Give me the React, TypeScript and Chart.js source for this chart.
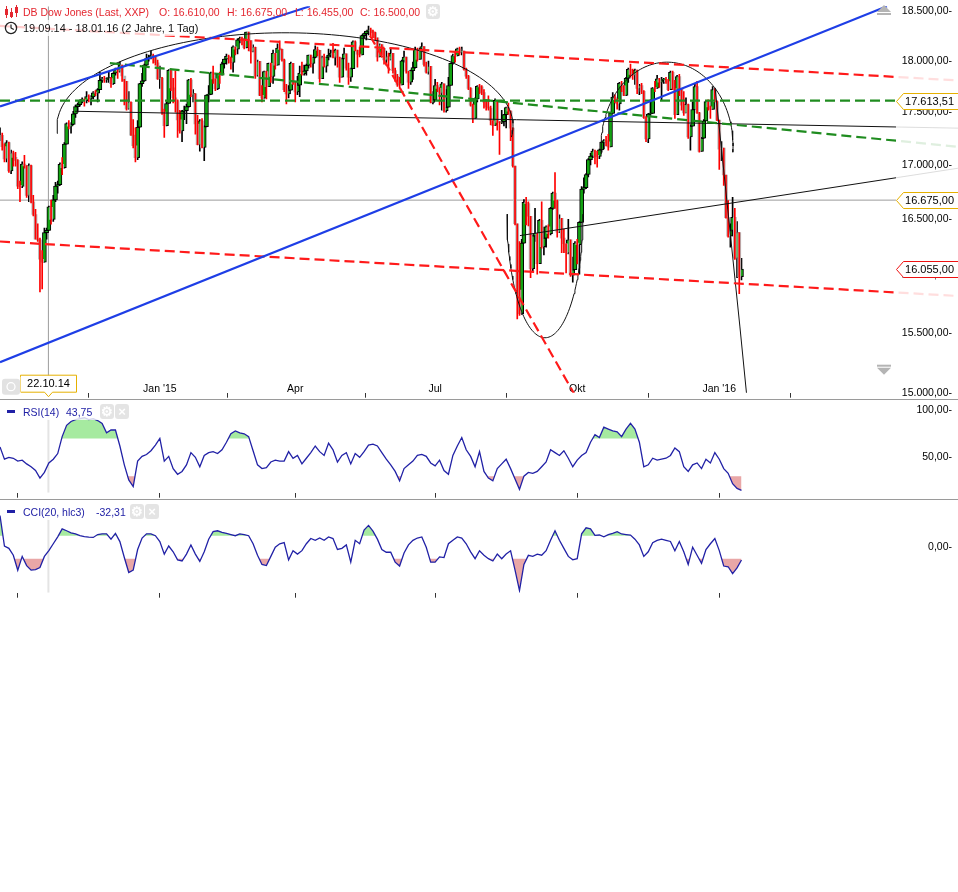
import React, { useEffect, useRef } from 'react';
import { Chart, registerables } from 'chart.js';

Chart.register(...registerables);

const FONT = '"Liberation Sans", Arial, Helvetica, sans-serif';

// ---------------- x axis (trading-day index) ----------------
const xMin = 0;
const xMax = 403.6;
const monthTickIndex = [8, 72, 133, 196, 260, 324];
const monthTickLabels = ['Okt', "Jan '15", 'Apr', 'Jul', 'Okt', "Jan '16"];

// ---------------- daily candles 19.09.14 - 18.01.16 ----------------
const opens = [
  17266,17280,17173,17056,17210,16946,17113,17071,17043,16804,
  16801,17009,16991,16719,16994,16659,16544,16321,16315,16142,
  16117,16380,16400,16610,16500,16677,16805,16818,17006,16975,
  17196,17391,17366,17384,17485,17555,17574,17614,17615,17613,
  17653,17635,17648,17688,17686,17720,17811,17818,17815,17828,
  17828,17777,17880,17913,17901,17959,17853,17801,17533,17597,
  17281,17181,17068,17357,17778,17805,17959,18024,18030,18053,
  18038,17983,17823,17833,17501,17371,17585,17908,17737,17640,
  17613,17427,17321,17511,17516,17555,17814,17673,17679,17388,
  17191,17417,17165,17362,17667,17674,17885,17825,17729,17868,
  17863,17973,18019,18048,18030,17986,18141,18117,18210,18225,
  18214,18133,18288,18204,18097,18136,17857,17996,17663,17636,
  17895,17749,17977,17849,18076,17959,18128,18116,18011,17719,
  17678,17713,17977,17776,17698,17763,17881,17876,17903,17958,
  18058,17977,18036,18113,18106,17827,18034,17950,18039,18058,
  18080,18038,18110,18036,17841,18024,18071,17929,17842,17925,
  18191,18106,18068,18060,18253,18273,18298,18312,18286,18285,
  18232,18042,18163,18126,18011,18041,18012,18077,17906,17849,
  17766,17765,18001,18039,17899,17791,17905,17935,18115,18016,
  18120,18144,17967,17891,17947,17596,17620,17758,17731,17684,
  17777,17515,17549,17760,17978,18054,18050,18121,18086,18100,
  17920,17851,17732,17569,17440,17630,17751,17746,17690,17598,
  17551,17540,17419,17373,17615,17403,17402,17409,17477,17546,
  17512,17349,16991,16460,15871,15666,16285,16655,16643,16528,
  16058,16351,16374,16102,16492,16253,16330,16433,16371,16600,
  16740,16675,16385,16510,16331,16280,16201,16315,16001,16049,
  16285,16272,16472,16776,16790,16912,17050,17084,17131,17082,
  17081,17142,17216,17230,17217,17169,17489,17646,17623,17581,
  17780,17756,17664,17829,17918,17868,17864,17910,17731,17758,
  17703,17449,17245,17484,17490,17737,17733,17824,17792,17813,
  17813,17798,17720,17888,17730,17478,17848,17730,17568,17493,
  17575,17265,17368,17525,17749,17495,17128,17252,17418,17603,
  17552,17528,17721,17603,17425,17149,17159,16907,16515,16347,
  16399,16517,16152,16380,15988,
];
const highs = [
  17350,17300,17200,17230,17215,17140,17130,17120,17050,16850,
  17030,17090,16995,17010,17000,16720,16590,16460,16330,16220,
  16420,16420,16620,16675,16720,16840,16850,17020,17070,17210,
  17400,17420,17400,17510,17570,17590,17620,17640,17630,17700,
  17670,17660,17700,17710,17730,17890,17840,17850,17835,17890,
  17840,17885,17930,17920,17990,17960,17820,17801,17700,17600,
  17430,17350,17420,17780,17880,17970,18070,18060,18100,18070,
  18040,18010,17950,17840,17530,17600,17915,17920,17830,17900,
  17620,17520,17520,17560,17580,17820,17830,17720,17680,17470,
  17430,17440,17370,17670,17760,17890,17950,17825,17870,17890,
  17990,18020,18070,18060,18040,18150,18140,18220,18240,18240,
  18220,18290,18290,18204,18160,18140,18010,17996,17760,17900,
  17900,17980,17980,18110,18076,18170,18200,18120,18020,17770,
  17760,17990,17977,17790,17850,17950,17990,17960,17970,18060,
  18060,18040,18150,18140,18106,18050,18070,18040,18120,18110,
  18175,18120,18110,18040,18030,18130,18071,17980,17930,18200,
  18200,18110,18140,18260,18280,18300,18350,18330,18310,18290,
  18232,18170,18163,18130,18100,18080,18130,18077,17930,17870,
  17840,18010,18100,18039,17899,17910,17990,18140,18130,18130,
  18180,18144,17990,18000,17947,17700,17820,17790,17740,17790,
  17777,17720,17840,17980,18070,18100,18130,18140,18140,18100,
  17930,17860,17740,17580,17640,17760,17770,17760,17720,17620,
  17660,17560,17420,17630,17615,17410,17520,17480,17550,17590,
  17515,17350,16991,16460,16300,16320,16680,16700,16660,16528,
  16360,16600,16374,16500,16660,16430,16440,16450,16610,16750,
  16930,16675,16540,16510,16410,16280,16500,16315,16160,16300,
  16320,16480,16800,16880,16920,17060,17110,17150,17140,17130,
  17150,17220,17240,17270,17290,17500,17690,17670,17630,17790,
  17800,17760,17840,17930,17970,17920,17920,17910,17770,17780,
  17710,17460,17490,17620,17740,17800,17860,17830,17840,17830,
  17840,17820,17900,17900,17810,17860,17870,17730,17700,17640,
  17580,17380,17600,17780,17800,17500,17260,17430,17610,17620,
  17560,17750,17730,17610,17425,17220,17159,16907,16670,16460,
  16700,16600,16480,16380,16150,
];
const lows = [
  17230,17140,17030,17030,16930,16920,16990,16990,16780,16660,
  16790,16970,16700,16660,16650,16530,16320,16300,15855,15880,
  16117,16320,16400,16455,16480,16660,16740,16810,16910,16970,
  17196,17340,17300,17380,17450,17500,17560,17590,17560,17590,
  17600,17570,17630,17660,17600,17720,17790,17790,17790,17790,
  17740,17770,17860,17830,17890,17800,17570,17520,17530,17280,
  17160,17030,17050,17357,17750,17800,17950,18000,18020,17980,
  17960,17820,17730,17480,17260,17370,17585,17710,17590,17500,
  17260,17300,17220,17430,17390,17550,17650,17600,17290,17190,
  17130,17160,17040,17360,17600,17670,17780,17710,17720,17780,
  17860,17930,17970,17980,17920,17890,18060,18070,18180,18160,
  18120,18130,18100,17980,18090,17830,17850,17660,17600,17636,
  17630,17749,17790,17780,17920,17959,18110,18000,17700,17580,
  17640,17713,17770,17600,17670,17650,17860,17860,17860,17930,
  17940,17880,18030,18050,17790,17827,17940,17890,18010,18040,
  18030,17960,17940,17790,17841,18020,17910,17770,17800,17925,
  18100,17940,18040,18060,18230,18210,18260,18250,18230,18210,
  18000,18040,18060,17970,17960,17880,18010,17880,17800,17750,
  17730,17765,17990,17880,17730,17770,17820,17930,18000,18016,
  18100,17950,17880,17870,17590,17580,17620,17700,17570,17520,
  17500,17500,17549,17760,17970,17990,18050,18060,18060,17910,
  17830,17720,17560,17400,17440,17600,17680,17670,17540,17520,
  17520,17380,17280,17373,17330,17100,17390,17370,17350,17480,
  17230,16980,16450,15620,15650,15660,16285,16450,16440,15980,
  16030,16300,16010,16102,16240,16180,16250,16330,16360,16590,
  16600,16340,16380,16200,16200,16020,16190,15990,15940,16049,
  16100,16010,16472,16740,16780,16890,17000,17070,17010,16980,
  17060,17120,17150,17180,17140,17169,17489,17590,17530,17520,
  17700,17660,17660,17790,17840,17820,17770,17680,17670,17680,
  17440,17220,17210,17470,17490,17700,17730,17740,17620,17780,
  17780,17710,17720,17720,17440,17478,17660,17520,17470,17493,
  17250,17140,17368,17525,17490,17120,17128,17250,17418,17520,
  17440,17528,17600,17420,16960,17040,16810,16510,16340,16250,
  16350,16140,15980,15840,15960,
];
const closes = [
  17280,17173,17056,17210,16946,17113,17071,17043,16804,16801,
  17009,16991,16719,16994,16659,16544,16321,16315,16142,16117,
  16380,16400,16614,16500,16677,16805,16818,17006,16975,17196,
  17391,17366,17384,17485,17555,17574,17614,17615,17613,17653,
  17635,17648,17688,17686,17720,17811,17818,17815,17828,17828,
  17777,17880,17913,17901,17959,17853,17801,17533,17597,17281,
  17181,17068,17357,17778,17805,17959,18024,18030,18053,18038,
  17983,17823,17833,17501,17371,17585,17908,17737,17640,17613,
  17427,17321,17511,17516,17555,17814,17673,17679,17388,17191,
  17417,17165,17362,17667,17674,17885,17825,17729,17868,17863,
  17973,18019,18048,18030,17986,18141,18117,18210,18225,18214,
  18133,18288,18204,18097,18136,17857,17996,17663,17636,17895,
  17749,17977,17849,18076,17959,18128,18116,18011,17719,17678,
  17713,17977,17776,17698,17763,17881,17876,17903,17958,18058,
  17977,18036,18113,18106,17827,18034,17950,18039,18058,18080,
  18038,18110,18036,17841,18024,18071,17929,17842,17925,18191,
  18106,18068,18060,18253,18273,18298,18312,18286,18285,18232,
  18042,18163,18126,18011,18041,18012,18077,17906,17849,17766,
  17765,18001,18039,17899,17791,17905,17935,18115,18016,18120,
  18144,17967,17891,17947,17596,17620,17758,17731,17684,17777,
  17515,17549,17760,17978,18054,18050,18121,18086,18100,17920,
  17851,17732,17569,17440,17630,17751,17746,17690,17598,17551,
  17540,17419,17373,17615,17403,17402,17409,17477,17546,17512,
  17349,16991,16460,15871,15666,16285,16655,16643,16528,16058,
  16351,16374,16102,16492,16253,16330,16433,16371,16600,16740,
  16675,16385,16510,16331,16280,16201,16315,16001,16049,16285,
  16272,16472,16776,16790,16912,17050,17084,17131,17082,17081,
  17142,17216,17230,17217,17169,17489,17646,17623,17581,17780,
  17756,17664,17829,17918,17868,17864,17910,17731,17758,17703,
  17449,17245,17484,17490,17737,17733,17824,17792,17813,17813,
  17798,17720,17888,17730,17478,17848,17730,17568,17493,17575,
  17265,17368,17525,17749,17495,17128,17252,17418,17603,17552,
  17528,17721,17603,17425,17149,17159,16907,16515,16347,16399,
  16517,16152,16380,15988,16055,
];

// ---------------- indicators (one reading every 2 trading days) ----------------
const indicatorStep = 2;
const rsiValues = [
  61,48,50,49,46,47,43,40,36,28,
  34,44,48,54,72,84,88,90,91,92,
  90,91,89,86,76,79,79,62,42,26,
  19,46,51,53,57,63,70,46,51,38,
  32,35,42,55,50,40,52,55,56,54,
  58,66,75,78,76,75,72,57,42,38,
  39,45,47,46,46,56,49,52,43,49,
  55,62,56,52,65,58,45,52,55,43,
  54,50,56,63,64,62,55,48,42,35,
  25,38,42,46,52,53,51,44,41,47,
  36,32,52,62,71,58,51,40,56,35,
  28,25,38,43,48,38,27,16,30,34,
  33,35,40,45,58,55,52,57,49,40,
  47,52,55,66,74,71,82,80,78,77,
  72,80,86,80,66,40,42,49,47,48,
  49,52,60,56,40,35,42,44,38,48,
  44,55,48,38,33,22,17,15,
];
const cciValues = [
  276,10,-10,-70,-200,-80,-160,-200,-195,-177,
  -80,-30,30,90,160,143,125,115,100,92,
  88,85,110,116,116,70,120,49,-90,-220,
  -200,-20,80,116,116,100,49,-60,10,-40,
  -110,-120,-60,20,-60,-124,-40,70,135,143,
  130,120,110,100,116,110,100,30,-70,-150,
  -160,-80,0,30,40,-110,-30,-60,-30,30,
  76,60,80,60,89,75,-20,-10,20,-130,
  60,30,150,190,140,70,-20,-44,-44,-130,
  -164,-50,20,60,80,89,0,-130,-130,-84,
  -90,30,60,89,80,30,-40,-100,-31,-70,
  -100,-120,-60,-100,-60,-31,-200,-377,-150,-71,
  -80,-60,-70,-30,60,143,60,-10,-80,-110,
  -100,116,169,160,103,106,90,110,120,135,
  115,110,105,70,20,-80,-40,40,60,70,
  60,50,-31,50,-40,-150,0,-70,-140,-20,
  30,76,-30,-164,-170,-230,-180,-111,
];

// ---------------- axis ticks & levels ----------------
const priceTicks = [15000, 15500, 16000, 16500, 17000, 17500, 18000, 18500];
const priceMin = 15000;
const priceMax = 18550;
const rsiTicks = [50, 100];
const rsiMin = 12.44;
const rsiMax = 104.15;
const rsiUpper = 70;
const rsiLower = 30;
const cciTicks = [0];
const cciMin = -396;
const cciMax = 356;
const cciUpper = 100;
const cciLower = -100;

const headerOHLC = [16610, 16675, 16455, 16500];
const crossIndex = 21.8;
const crossPrice = 16675;
const crossDate = '22.10.14';
const lastPrice = 16055;
const levelPrice = 17613.51;
const rsiLast = 43.75;
const cciLast = -32.31;

// ---------------- drawn trend lines: [x0, price0, x1, price1] ----------------
const blueLines = [
  [0, 15253, 399.5, 18550],
  [0, 17557, 139.6, 18550],
];
const redDashedLines = [
  [0, 18351, 431.5, 17809],
  [0, 16300, 431.5, 15819],
  [166.7, 18252, 259.9, 14950],
];
const greenDashedLines = [
  [0, 17613.51, 403.6, 17613.51],
  [49.5, 17979, 431.5, 17171],
];
const blackLines = [
  [33.8, 17510, 431.5, 17348],
  [234.2, 16353, 431.5, 16970],
];
const blackSteepX = [322.1, 327.5, 333.3, 336.5];
const blackSteepP = [17738, 16655, 15552, 14950];
// elliptic arcs (centre index, half-width in days, base price, apex price, angle range)
const arcs = [
  { cx: 128.4, rx: 102.7, base: 17369, apex: 18282, t0: Math.PI + 0.08, t1: -0.12 },
  { cx: 245.5, rx: 17.1, base: 16547, apex: 15460, t0: Math.PI, t1: 0 },
  { cx: 300.5, rx: 29.7, base: 17183, apex: 17989, t0: Math.PI + 0.1, t1: -0.08 },
];

const RED = '#ff1a1a';
const GREEN = '#1f8c1f';
const BLUE = '#1e3ee6';
const IND_LINE = '#2121a6';
const FILL_GREEN = '#a6eaa0';
const FILL_RED = '#e9a7a7';

function fmtDE(v: number): string {
  const neg = v < 0;
  const [i, d] = Math.abs(v).toFixed(2).split('.');
  return (neg ? '-' : '') + i.replace(/\B(?=(\d{3})+(?!\d))/g, '.') + ',' + d;
}

function xAxis(showLabels: boolean): any {
  return {
    type: 'linear',
    min: xMin,
    max: xMax,
    offset: false,
    afterBuildTicks: (s: any) => { s.ticks = monthTickIndex.map((v) => ({ value: v })); },
    ticks: {
      display: showLabels,
      autoSkip: false,
      mirror: true,
      maxRotation: 0,
      minRotation: 0,
      padding: -3,
      color: '#000',
      callback: (_v: any, i: number) => monthTickLabels[i],
    },
    grid: { display: true, drawOnChartArea: false, drawTicks: true, tickLength: 5, tickColor: '#333', tickWidth: 1 },
    border: { display: false },
    afterFit: (s: any) => { s.height = 5; },
  };
}

function yAxis(type: string, min: number, max: number, ticks: number[]): any {
  return {
    type,
    position: 'right',
    min,
    max,
    afterBuildTicks: (s: any) => { s.ticks = ticks.map((v) => ({ value: v })); },
    ticks: { callback: (v: any) => fmtDE(Number(v)) + '-', crossAlign: 'far', padding: 0, color: '#000', autoSkip: false, z: 2 },
    grid: { display: false, drawTicks: false },
    border: { display: false },
    afterFit: (s: any) => { s.width = 56; },
  };
}

function seg(points: any[], color: string, width: number, dash: number[], extend: boolean, order = 0): any {
  return {
    type: 'line',
    data: points,
    borderColor: color,
    borderWidth: width,
    borderDash: dash,
    pointRadius: 0,
    pointHoverRadius: 0,
    fill: false,
    tension: 0,
    order,
    clip: { left: 0, top: 0, right: extend ? 70 : 0, bottom: 0 },
  };
}

const two = (l: number[]) => [{ x: l[0], y: l[1] }, { x: l[2], y: l[3] }];

function arcPoints(a: any) {
  const pts: any[] = [];
  const lb = Math.log10(a.base);
  const la = Math.log10(a.apex);
  const n = 90;
  for (let j = 0; j <= n; j++) {
    const t = a.t0 + ((a.t1 - a.t0) * j) / n;
    pts.push({ x: a.cx + a.rx * Math.cos(t), y: Math.pow(10, lb + (la - lb) * Math.sin(t)) });
  }
  return pts;
}

// indicator curve clamped to one side of a threshold (crossings inserted exactly)
function bandPoints(values: number[], level: number, above: boolean) {
  const pts: any[] = [];
  for (let k = 0; k < values.length; k++) {
    const v = values[k];
    if (k > 0) {
      const pv = values[k - 1];
      if ((pv - level) * (v - level) < 0) {
        const t = (level - pv) / (v - pv);
        pts.push({ x: (k - 1 + t) * indicatorStep, y: level });
      }
    }
    pts.push({ x: k * indicatorStep, y: above ? Math.max(v, level) : Math.min(v, level) });
  }
  return pts;
}

const fadePlugin = {
  id: 'fadeAxisArea',
  afterDatasetsDraw(chart: any) {
    const { ctx, chartArea } = chart;
    ctx.save();
    ctx.fillStyle = 'rgba(255,255,255,0.86)';
    ctx.fillRect(chartArea.right, 0, chart.width - chartArea.right, chartArea.bottom);
    ctx.restore();
  },
};

function drawTag(ctx: any, x0: number, x1: number, py: number, color: string, text: string) {
  const h = 16;
  ctx.beginPath();
  ctx.moveTo(x0, py);
  ctx.lineTo(x0 + 7, py - h / 2);
  ctx.lineTo(x1, py - h / 2);
  ctx.lineTo(x1, py + h / 2);
  ctx.lineTo(x0 + 7, py + h / 2);
  ctx.closePath();
  ctx.fillStyle = '#fff';
  ctx.fill();
  ctx.strokeStyle = color;
  ctx.lineWidth = 1;
  ctx.stroke();
  ctx.fillStyle = '#000';
  ctx.font = '11px ' + FONT;
  ctx.textAlign = 'right';
  ctx.textBaseline = 'middle';
  ctx.fillText(text, x1 - 6, py + 0.5);
}

const mainDecor = {
  id: 'mainDecor',
  afterDraw(chart: any) {
    const { ctx, chartArea, scales } = chart;
    ctx.save();
    const x0 = chartArea.right + 0.5;
    const x1 = chart.width + 2;
    drawTag(ctx, x0, x1, Math.round(scales.y.getPixelForValue(levelPrice)) + 0.5, '#e5b000', fmtDE(levelPrice));
    drawTag(ctx, x0, x1, Math.round(scales.y.getPixelForValue(crossPrice)) + 0.5, '#e5b000', fmtDE(crossPrice));
    drawTag(ctx, x0, x1, Math.round(scales.y.getPixelForValue(lastPrice)) + 0.5, '#ee1111', fmtDE(lastPrice));

    // crosshair date box
    const cx = Math.round(scales.x.getPixelForValue(crossIndex)) + 0.5;
    const b = chartArea.bottom;
    ctx.beginPath();
    ctx.moveTo(cx - 28, b - 17.5);
    ctx.lineTo(cx + 28, b - 17.5);
    ctx.lineTo(cx + 28, b - 0.5);
    ctx.lineTo(cx + 4, b - 0.5);
    ctx.lineTo(cx, b + 4);
    ctx.lineTo(cx - 4, b - 0.5);
    ctx.lineTo(cx - 28, b - 0.5);
    ctx.closePath();
    ctx.fillStyle = '#fff';
    ctx.fill();
    ctx.strokeStyle = '#e5b000';
    ctx.lineWidth = 1;
    ctx.stroke();
    ctx.fillStyle = '#000';
    ctx.font = '11px ' + FONT;
    ctx.textAlign = 'center';
    ctx.textBaseline = 'middle';
    ctx.fillText(crossDate, cx, b - 8.5);

    // small button at lower-left
    ctx.fillStyle = '#fff';
    ctx.fillRect(0, b - 16, cx - 28, 20);
    ctx.fillStyle = '#e2e2e2';
    ctx.beginPath();
    ctx.roundRect(2, b - 14, 18, 16, 3);
    ctx.fill();
    ctx.strokeStyle = '#fff';
    ctx.lineWidth = 1.3;
    ctx.beginPath();
    ctx.arc(11, b - 6, 4, 0, Math.PI * 2);
    ctx.stroke();

    // scroll arrows at the right
    const ax = chartArea.right - 19;
    ctx.fillStyle = '#b4b4b4';
    ctx.beginPath();
    ctx.moveTo(ax, 12); ctx.lineTo(ax + 14, 12); ctx.lineTo(ax + 7, 5); ctx.closePath(); ctx.fill();
    ctx.fillRect(ax, 13, 14, 2);
    ctx.fillRect(ax, b - 28, 14, 2);
    ctx.beginPath();
    ctx.moveTo(ax, b - 25); ctx.lineTo(ax + 14, b - 25); ctx.lineTo(ax + 7, b - 18); ctx.closePath(); ctx.fill();
    ctx.restore();
  },
};

function buildMainConfig(): any {
  const n = Math.min(opens.length, highs.length, lows.length, closes.length);
  const upWick: any[] = [];
  const upBody: any[] = [];
  const downWick: any[] = [];
  const downBody: any[] = [];
  for (let i = 0; i < n; i++) {
    const o = opens[i];
    const c = closes[i];
    const wick = { x: i, y: [lows[i], highs[i]] };
    const body = { x: i, y: [Math.min(o, c), Math.max(o, c)] };
    if (c >= o) { upWick.push(wick); upBody.push(body); } else { downWick.push(wick); downBody.push(body); }
  }
  const barBase = { type: 'bar', grouped: false, borderSkipped: false, minBarLength: 1 };
  const datasets: any[] = [
    ...blueLines.map((l) => seg(two(l), BLUE, 2.2, [], false)),
    ...redDashedLines.map((l) => seg(two(l), RED, 2.2, [10, 5], true)),
    ...greenDashedLines.map((l) => seg(two(l), GREEN, 2.2, [10, 5], true)),
    ...blackLines.map((l) => seg(two(l), '#111', 1, [], true)),
    seg(blackSteepX.map((x, i) => ({ x, y: blackSteepP[i] })), '#111', 1, [], false),
    ...arcs.map((a) => seg(arcPoints(a), '#111', 1, [], false)),
    { ...barBase, data: downWick, backgroundColor: '#ff0000', barThickness: 1, order: 1 },
    { ...barBase, data: downBody, backgroundColor: '#b5b5b5', barThickness: 3, order: 2 },
    { ...barBase, data: upBody, backgroundColor: '#12a312', borderColor: '#000', borderWidth: 1, barThickness: 4, order: 3 },
    { ...barBase, data: upWick, backgroundColor: '#000', barThickness: 1, order: 4 },
    seg([{ x: crossIndex, y: priceMin }, { x: crossIndex, y: priceMax }], '#9c9c9c', 1, [], false, 5),
    seg([{ x: xMin, y: crossPrice }, { x: xMax, y: crossPrice }], '#9c9c9c', 1, [], false, 5),
  ];
  return {
    type: 'bar',
    data: { datasets },
    plugins: [fadePlugin, mainDecor],
    options: {
      responsive: false,
      animation: false,
      events: [],
      layout: { padding: { left: 0, right: 6, top: 0, bottom: 0 } },
      plugins: { legend: { display: false }, tooltip: { enabled: false } },
      scales: { x: xAxis(true), y: yAxis('logarithmic', priceMin, priceMax, priceTicks) },
    },
  };
}

function buildIndicatorConfig(values: number[], min: number, max: number, ticks: number[], upper: number, lower: number): any {
  const pts = values.map((v, k) => ({ x: k * indicatorStep, y: v }));
  const base = { type: 'line', pointRadius: 0, pointHoverRadius: 0, tension: 0 };
  const clear = 'rgba(0,0,0,0)';
  return {
    type: 'line',
    data: {
      datasets: [
        { ...base, data: pts, borderColor: IND_LINE, borderWidth: 1.3, fill: false, order: 0 },
        { ...base, data: bandPoints(values, upper, true), borderColor: clear, borderWidth: 1, backgroundColor: FILL_GREEN, fill: { target: { value: upper } }, order: 1 },
        { ...base, data: bandPoints(values, lower, false), borderColor: clear, borderWidth: 1, backgroundColor: FILL_RED, fill: { target: { value: lower } }, order: 2 },
        { ...base, data: [{ x: crossIndex, y: min }, { x: crossIndex, y: max }], borderColor: '#e4e4e4', borderWidth: 2, fill: false, order: 3 },
      ],
    },
    options: {
      responsive: false,
      animation: false,
      events: [],
      layout: { padding: { left: 0, right: 6, top: 0, bottom: 0 } },
      plugins: { legend: { display: false }, tooltip: { enabled: false } },
      scales: { x: xAxis(false), y: yAxis('linear', min, max, ticks) },
    },
  };
}

const iconBox = (left: number, top: number, glyph: string) => (
  <div style={{ position: 'absolute', left, top, width: 14, height: 15, borderRadius: 3, background: 'rgba(225,225,225,0.9)', color: '#fff', fontSize: 13, lineHeight: '15px', textAlign: 'center', fontWeight: 'bold' }}>{glyph}</div>
);

export default function App() {
  const mainRef = useRef<HTMLCanvasElement>(null);
  const rsiRef = useRef<HTMLCanvasElement>(null);
  const cciRef = useRef<HTMLCanvasElement>(null);

  useEffect(() => {
    Chart.defaults.font.family = FONT;
    Chart.defaults.font.size = 10.5;
    Chart.defaults.color = '#000';
    const charts = [
      new Chart(mainRef.current as any, buildMainConfig()),
      new Chart(rsiRef.current as any, buildIndicatorConfig(rsiValues, rsiMin, rsiMax, rsiTicks, rsiUpper, rsiLower)),
      new Chart(cciRef.current as any, buildIndicatorConfig(cciValues, cciMin, cciMax, cciTicks, cciUpper, cciLower)),
    ];
    return () => charts.forEach((c) => c.destroy());
  }, []);

  const red = '#e4262f';
  const text = (left: number, top: number, s: string, color: string, size = 10.5) => (
    <span style={{ position: 'absolute', left, top, fontSize: size, lineHeight: '14px', color, whiteSpace: 'nowrap' }}>{s}</span>
  );

  return (
    <div style={{ position: 'absolute', left: 0, top: 0, width: 958, height: 892, background: '#fff', fontFamily: FONT, overflow: 'hidden' }}>
      <canvas ref={mainRef} width={958} height={399} style={{ position: 'absolute', left: 0, top: 0, width: 958, height: 399 }} />
      <div style={{ position: 'absolute', left: 0, top: 399, width: 958, height: 1, background: '#9a9a9a' }} />
      <canvas ref={rsiRef} width={958} height={99} style={{ position: 'absolute', left: 0, top: 400, width: 958, height: 99 }} />
      <div style={{ position: 'absolute', left: 0, top: 499, width: 958, height: 1, background: '#9a9a9a' }} />
      <canvas ref={cciRef} width={958} height={99} style={{ position: 'absolute', left: 0, top: 500, width: 958, height: 99 }} />

      {/* header */}
      <svg style={{ position: 'absolute', left: 4, top: 5 }} width={15} height={14}>
        <line x1={2.5} y1={1} x2={2.5} y2={13} stroke={red} strokeWidth={1} />
        <rect x={1} y={4} width={3} height={6} fill={red} />
        <line x1={7.5} y1={3} x2={7.5} y2={13} stroke={red} strokeWidth={1} />
        <rect x={6} y={7} width={3} height={5} fill={red} />
        <line x1={12.5} y1={0} x2={12.5} y2={12} stroke={red} strokeWidth={1} />
        <rect x={11} y={2} width={3} height={6} fill={red} />
      </svg>
      {text(23, 5, 'DB Dow Jones (Last, XXP)', red)}
      {text(159, 5, 'O: ' + fmtDE(headerOHLC[0]), red)}
      {text(227, 5, 'H: ' + fmtDE(headerOHLC[1]), red)}
      {text(295, 5, 'L: ' + fmtDE(headerOHLC[2]), red)}
      {text(360, 5, 'C: ' + fmtDE(headerOHLC[3]), red)}
      {iconBox(426, 4, '\u2699')}
      <div style={{ position: 'absolute', left: 0, top: 20, width: 200, height: 16, background: 'rgba(255,255,255,0.78)' }} />
      <svg style={{ position: 'absolute', left: 4, top: 21 }} width={14} height={14}>
        <circle cx={7} cy={7} r={5.6} fill="none" stroke="#222" strokeWidth={1.3} />
        <line x1={7} y1={3.5} x2={7} y2={7.3} stroke="#222" strokeWidth={1.2} />
        <line x1={7} y1={7} x2={9.8} y2={8.6} stroke="#222" strokeWidth={1.2} />
      </svg>
      {text(23, 21, '19.09.14 - 18.01.16 (2 Jahre, 1 Tag)', '#111', 11)}

      {/* RSI legend */}
      <div style={{ position: 'absolute', left: 0, top: 403, width: 130, height: 17, background: 'rgba(255,255,255,0.8)' }} />
      <div style={{ position: 'absolute', left: 7, top: 410, width: 8, height: 3, background: IND_LINE }} />
      {text(23, 405, 'RSI(14)', IND_LINE)}
      {text(66, 405, fmtDE(rsiLast), IND_LINE)}
      {iconBox(100, 404, '\u2699')}
      {iconBox(115, 404, '\u00d7')}

      {/* CCI legend */}
      <div style={{ position: 'absolute', left: 5, top: 503, width: 155, height: 17, background: 'rgba(255,255,255,0.8)' }} />
      <div style={{ position: 'absolute', left: 7, top: 510, width: 8, height: 3, background: IND_LINE }} />
      {text(23, 505, 'CCI(20, hlc3)', IND_LINE)}
      {text(96, 505, fmtDE(cciLast), IND_LINE)}
      {iconBox(130, 504, '\u2699')}
      {iconBox(145, 504, '\u00d7')}
    </div>
  );
}
